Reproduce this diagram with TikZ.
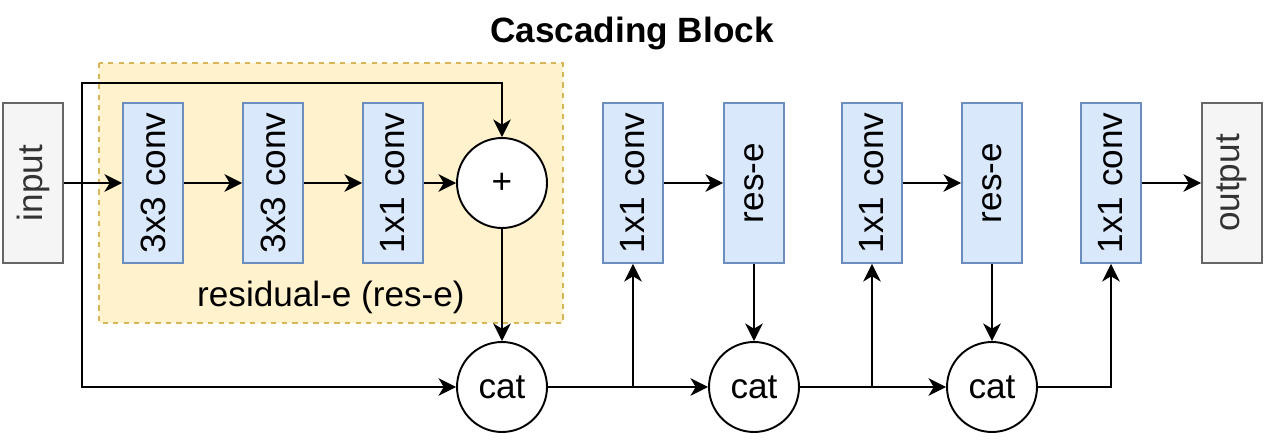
\documentclass[tikz,border=0pt]{standalone}
\usepackage{fontspec}
\setmainfont{Liberation Sans}
\usepackage{tikz}
\usetikzlibrary{calc,arrows.meta}
\definecolor{convfill}{HTML}{DAE8FC}
\definecolor{convline}{HTML}{6C8EBF}
\definecolor{iofill}{HTML}{F5F5F5}
\definecolor{ioline}{HTML}{666666}
\definecolor{iotext}{HTML}{333333}
\definecolor{resfill}{HTML}{FFF2CC}
\definecolor{resline}{HTML}{D6B656}

\begin{document}
\begin{tikzpicture}[x=0.02cm,y=-0.02cm,
  font=\fontsize{20}{24}\selectfont,
  conv/.style={draw=convline,fill=convfill,line width=1.1pt,minimum width=1.2cm,minimum height=3.2cm,inner sep=0pt},
  io/.style={draw=ioline,fill=iofill,text=iotext,line width=1.1pt,minimum width=1.2cm,minimum height=3.2cm,inner sep=0pt},
  op/.style={draw,circle,fill=white,line width=1.1pt,minimum size=1.8cm,inner sep=0pt},
  arr/.style={line width=1.2pt,-{Stealth[length=10pt,width=10pt,inset=3pt]}}]
\useasboundingbox (0,0) rectangle (1264,442);
% residual-e box
\draw[resline,fill=resfill,dashed,line width=1.1pt] (99,63) rectangle (563,323);
\node (reslabel) at (331,297) {residual-e (res-e)};
\node[font=\fontsize{20}{24}\selectfont\bfseries] (title) at (632,33) {Cascading Block};
% blocks
\node[io] (input) at (33,183) {\rotatebox{90}{input}};
\node[conv] (conva) at (153,183) {\rotatebox{90}{3x3 conv}};
\node[conv] (convb) at (273,183) {\rotatebox{90}{3x3 conv}};
\node[conv] (convc) at (393,183) {\rotatebox{90}{1x1 conv}};
\node[op] (plus) at (502,183) {+};
\node[op] (cata) at (502,387) {cat};
\node[conv] (convd) at (633,183) {\rotatebox{90}{1x1 conv}};
\node[conv] (resea) at (754,183) {\rotatebox{90}{res-e}};
\node[op] (catb) at (754,387) {cat};
\node[conv] (conve) at (872,183) {\rotatebox{90}{1x1 conv}};
\node[conv] (reseb) at (992,183) {\rotatebox{90}{res-e}};
\node[op] (catc) at (992,387) {cat};
\node[conv] (convf) at (1111,183) {\rotatebox{90}{1x1 conv}};
\node[io] (output) at (1232,183) {\rotatebox{90}{output}};
% connectors
\coordinate (split) at (82,183);
\coordinate (skiptop) at (82,83);
\coordinate (skipbot) at (82,387);
\draw[arr] (input) -- (conva);
\draw[arr] (conva) -- (convb);
\draw[arr] (convb) -- (convc);
\draw[arr] (convc) -- (plus);
\draw[arr] (split) -- (skiptop) -| (plus);
\draw[arr] (split) -- (skipbot) -- (cata);
\draw[arr] (plus) -- (cata);
\draw[arr] (cata) -- (catb);
\draw[arr] (cata -| convd) -- (convd);
\draw[arr] (convd) -- (resea);
\draw[arr] (resea) -- (catb);
\draw[arr] (catb) -- (catc);
\draw[arr] (catb -| conve) -- (conve);
\draw[arr] (conve) -- (reseb);
\draw[arr] (reseb) -- (catc);
\draw[arr] (catc) -| (convf);
\draw[arr] (convf) -- (output);
\end{tikzpicture}
\end{document}
